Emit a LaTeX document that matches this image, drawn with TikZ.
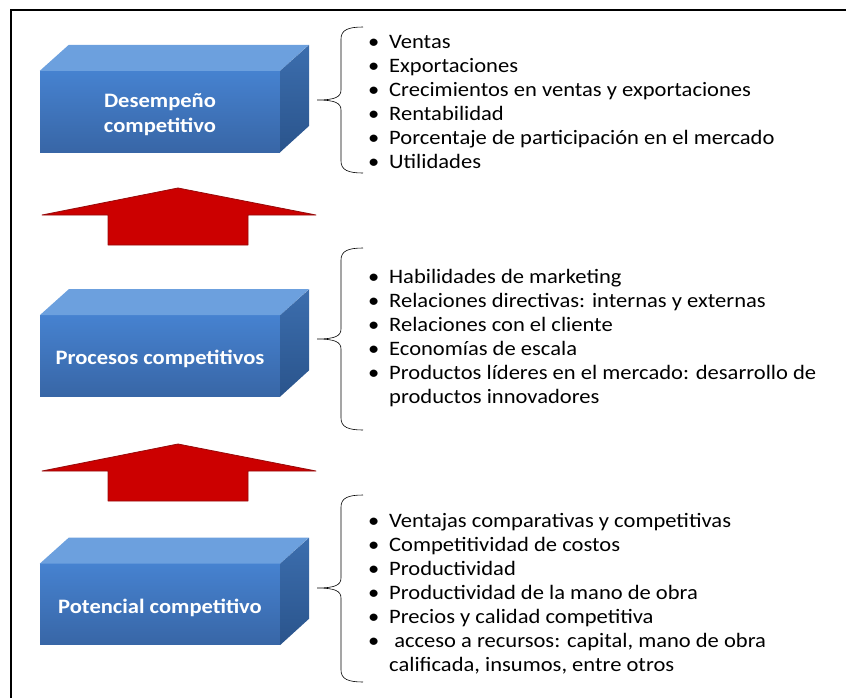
\documentclass[tikz,border=0pt]{standalone}
\usepackage{fontspec}
\setmainfont{Carlito}[FakeStretch=1.1]
\usetikzlibrary{positioning}

\definecolor{facetop}{RGB}{70,130,208}
\definecolor{facebot}{RGB}{56,102,166}
\definecolor{boxtop}{RGB}{108,160,222}
\definecolor{sidetop}{RGB}{60,110,174}
\definecolor{sidebot}{RGB}{42,84,140}
\definecolor{arrowred}{RGB}{204,0,0}
\definecolor{arrowdark}{RGB}{150,10,10}

\newcommand\itm[1]{\makebox[21pt][l]{\textbullet}#1}
\newcommand\cont[1]{\hspace*{21pt}#1}

\begin{document}
\begin{tikzpicture}[
    x=1pt, y=-1pt,
    face/.style={top color=facetop, bottom color=facebot, minimum width=240pt, minimum height=81pt, inner sep=0pt},
    boxtext/.style={text=white, align=center, inner sep=0pt, font=\fontsize{20.5}{25}\selectfont\bfseries},
    topface/.style={fill=boxtop},
    sideface/.style={top color=sidetop, bottom color=sidebot},
    list/.style={anchor=base west, inner sep=0pt, align=left, font=\fontsize{20.5}{24}\selectfont},
    brace/.style={draw=black, line width=0.6pt},
    uparrow/.style={fill=arrowred, draw=arrowdark, line width=0.8pt, line join=round},
    frame/.style={draw=black, line width=2.6pt}
  ]
    \useasboundingbox (0,0) rectangle (846,697);
    \draw[frame] (11,10) rectangle (860,710);

    % the three blocks
    \node[face] (desem) at (160,111.5) {};
    \node[face, below=163pt of desem] (proc) {};
    \node[face, below=167pt of proc] (poten) {};

    \foreach \b in {desem, proc, poten} {
      \fill[topface] (\b.north west) -- ++(29,-26) -- ++(240,0) -- (\b.north east) -- cycle;
      \shade[sideface] (\b.north east) -- ++(29,-26) -- ++(0,81) -- (\b.south east) -- cycle;
    }

    \node[boxtext] (desemtxt) at ([yshift=-3.5pt]desem.center) {Desempeño\\competitivo};
    \node[boxtext] (proctxt) at ([yshift=-2.5pt]proc.center) {Procesos competitivos};
    \node[boxtext] (potentxt) at ([yshift=-3.5pt]poten.center) {Potencial competitivo};

    % red arrows between the blocks
    \foreach \t in {188, 444}
      \filldraw[uparrow, shift={(0,\t)}] (42,27) -- (178,0) -- (316,27) -- (248,27) -- (248,57) -- (108,57) -- (108,27) -- cycle;

    % braces
    \foreach \top/\tip/\bot in {27/100/173, 248/339/430, 495/588/682}
      \draw[brace] (363,\top) .. controls (348,\top) and (341,\top+3) .. (341,\top+12)
        -- (341,\tip-10) .. controls (341,\tip-3) and (335,\tip) .. (317,\tip)
        .. controls (335,\tip) and (341,\tip+3) .. (341,\tip+10)
        -- (341,\bot-12) .. controls (341,\bot-3) and (348,\bot) .. (363,\bot);

    % lists (base = last line)
    \node[list] (l1) at (368,168.5) {\itm{Ventas}\\\itm{Exportaciones}\\\itm{Crecimientos en ventas y exportaciones}\\\itm{Rentabilidad}\\\itm{Porcentaje de participación en el mercado}\\\itm{Utilidades}};
    \node[list] (l2) at (368,403) {\itm{Habilidades de marketing}\\\itm{Relaciones directivas: internas y externas}\\\itm{Relaciones con el cliente}\\\itm{Economías de escala}\\\itm{Productos líderes en el mercado: desarrollo de}\\\cont{productos innovadores}};
    \node[list] (l3) at (368,671) {\itm{Ventajas comparativas y competitivas}\\\itm{Competitividad de costos}\\\itm{Productividad}\\\itm{Productividad de la mano de obra}\\\itm{Precios y calidad competitiva}\\\itm{\ acceso a recursos: capital, mano de obra}\\\cont{calificada, insumos, entre otros}};
  \end{tikzpicture}
\end{document}
